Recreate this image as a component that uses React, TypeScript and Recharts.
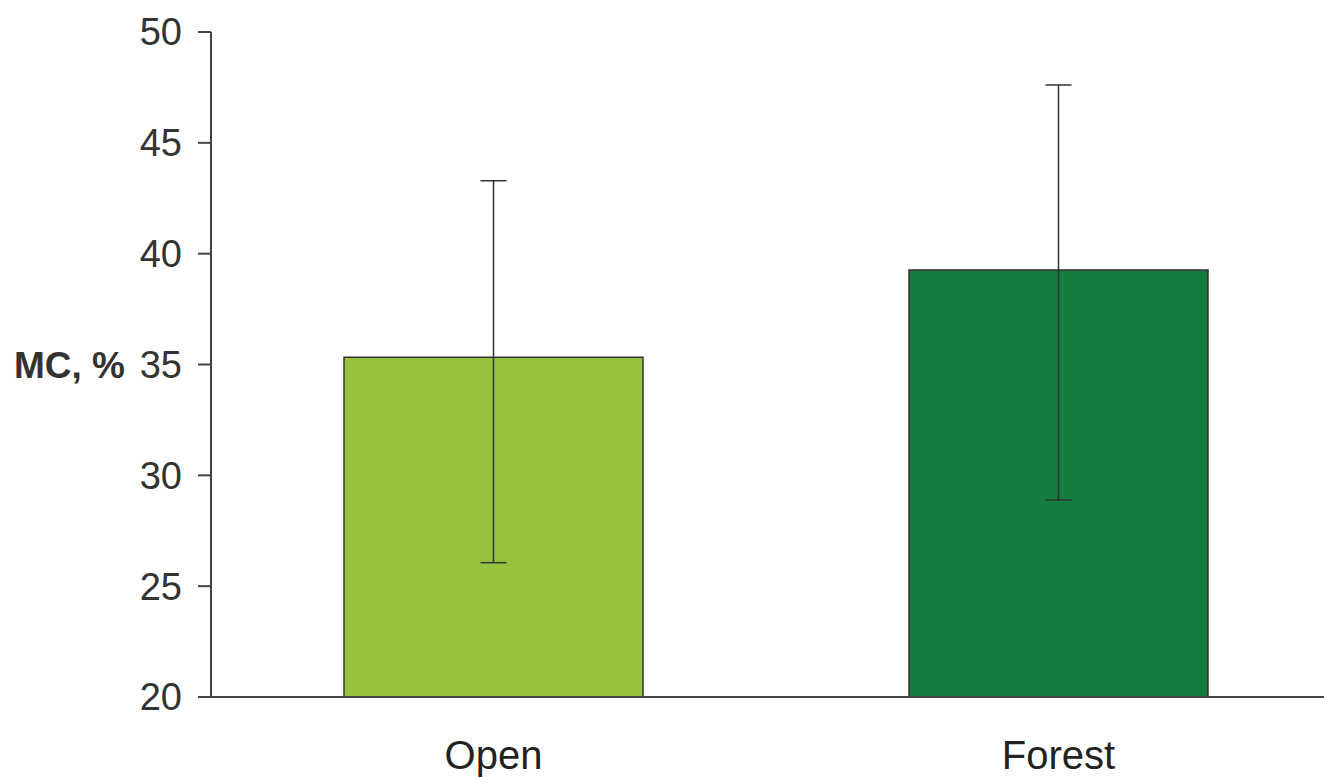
import { BarChart, Bar, XAxis, YAxis, ErrorBar, Cell } from "recharts";

const categories = ["Open", "Forest"];
const mcValues = [35.33, 39.26];
// [below, above] error extents
const mcErrors: [number, number][] = [
  [9.27, 7.96],
  [10.37, 8.35],
];
const barColors = ["#96c23e", "#157c3f"];
const yTicks = [20, 25, 30, 35, 40, 45, 50];

const data = categories.map((name, i) => ({
  name,
  mc: mcValues[i],
  err: mcErrors[i],
}));

const font = "'Liberation Sans', Arial, sans-serif";
const axisColor = "#444";

export default function App() {
  return (
    <div
      style={{
        position: "absolute",
        left: 0,
        top: 0,
        width: 1324,
        height: 778,
        overflow: "hidden",
        background: "#fff",
      }}
    >
      <BarChart
        width={1341}
        height={778}
        data={data}
        margin={{ top: 32, right: 0, bottom: 0, left: 0 }}
        style={{ fontFamily: font }}
      >
        <XAxis
          dataKey="name"
          height={81}
          tickLine={false}
          tickSize={0}
          tickMargin={44}
          axisLine={{ stroke: axisColor, strokeWidth: 2 }}
          tick={{ fill: "#222", fontSize: 40, fontFamily: font }}
        />
        <YAxis
          width={211}
          domain={[20, 50]}
          ticks={yTicks}
          interval={0}
          tickSize={13}
          tickMargin={16}
          axisLine={{ stroke: axisColor, strokeWidth: 2 }}
          tickLine={{ stroke: axisColor, strokeWidth: 2 }}
          tick={{ fill: "#333", fontSize: 38, fontFamily: font }}
          label={{
            value: "MC, %",
            position: "insideLeft",
            offset: 14,
            fill: "#333",
            fontSize: 37,
            fontWeight: "bold",
            fontFamily: font,
          }}
        />
        <Bar
          dataKey="mc"
          barSize={299}
          stroke="#333"
          strokeWidth={1.5}
          isAnimationActive={false}
        >
          {data.map((d, i) => (
            <Cell key={d.name} fill={barColors[i]} />
          ))}
          <ErrorBar
            dataKey="err"
            width={13}
            stroke="#333"
            strokeWidth={1.5}
            isAnimationActive={false}
          />
        </Bar>
      </BarChart>
    </div>
  );
}
